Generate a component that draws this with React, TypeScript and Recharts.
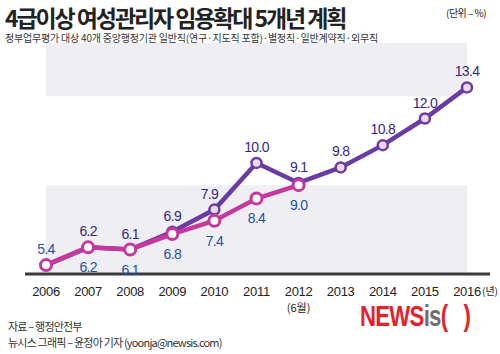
import React from "react";
import {
  LabelList,
  Line,
  LineChart,
  ReferenceArea,
  ReferenceLine,
  XAxis,
  YAxis,
} from "recharts";

const years = ["2006", "2007", "2008", "2009", "2010", "2011", "2012", "2013", "2014", "2015", "2016"];
const planValues = [5.4, 6.2, 6.1, 6.9, 7.9, 10.0, 9.1, 9.8, 10.8, 12.0, 13.4];
const actualValues = [5.4, 6.2, 6.1, 6.8, 7.4, 8.4, 9.0, null, null, null, null];
const yTicks = [5, 7, 9, 11, 13, 15];

const data = years.map((year, i) => ({
  year,
  plan: planValues[i],
  actual: actualValues[i],
}));

const PURPLE = "#6a3ca2";
const PINK = "#c5399f";
const GREY_BAND = "#efeff3";
const KR = "'Noto Sans CJK KR', 'Noto Sans', sans-serif";
const NUM = "'Liberation Sans', Arial, sans-serif";

const YTick = (props: any) => (
  <text x={19} y={props.y} dy={4} textAnchor="end" fontFamily={NUM} fontSize={12} fill="#111">
    {props.payload.value}
  </text>
);

const XTick = (props: any) => {
  const v = props.payload.value;
  return (
    <g>
      <text x={props.x} y={props.y + 14} textAnchor="middle" fontFamily={NUM} fontSize={13} fill="#222" letterSpacing={-0.3}>
        {v}
      </text>
      {v === "2012" && (
        <text x={props.x} y={props.y + 30} textAnchor="middle" fontFamily={KR} fontSize={11} fill="#222">
          (6월)
        </text>
      )}
      {v === "2016" && (
        <text x={props.x + 15} y={props.y + 13} textAnchor="start" fontFamily={KR} fontSize={10} fill="#222">
          (년)
        </text>
      )}
    </g>
  );
};

// 2006 point is shared, so only the blue label is shown there (above)
const planLabel = (props: any) => {
  if (props.index === 0) return null;
  const dx = props.index === 4 ? -5 : 0;
  return (
    <text x={props.x + dx} y={props.y - 11} textAnchor="middle" fontFamily={NUM} fontSize={14} fill="#3a1f85" letterSpacing={-0.7}>
      {Number(props.value).toFixed(1)}
    </text>
  );
};

const actualLabel = (props: any) => {
  if (props.value == null) return null;
  const above = props.index === 0;
  return (
    <text
      x={props.x}
      y={above ? props.y - 11 : props.y + 25}
      textAnchor="middle"
      fontFamily={NUM}
      fontSize={14}
      fill="#1d4fa8"
      letterSpacing={-0.7}
    >
      {Number(props.value).toFixed(1)}
    </text>
  );
};

const Baseline = (props: any) => (
  <line x1={props.x1 + 20} y1={props.y1} x2={props.x2} y2={props.y2} stroke="#3a3a3a" strokeWidth={3} />
);

export default function App() {
  return (
    <div style={{ position: "absolute", left: 0, top: 0, width: 500, height: 354, background: "#fff", overflow: "hidden" }}>
      <LineChart
        width={500}
        height={354}
        data={data}
        margin={{ top: 43, right: 10, left: 5, bottom: 50 }}
        style={{ position: "absolute", left: 0, top: 0 }}
      >
        <ReferenceArea y1={13} y2={15.4} fill={GREY_BAND} fillOpacity={1} stroke="none" />
        <ReferenceArea y1={5} y2={9} fill={GREY_BAND} fillOpacity={1} stroke="none" />
        <XAxis
          dataKey="year"
          height={30}
          padding={{ left: 41, right: 23 }}
          axisLine={false}
          tickLine={false}
          tick={XTick}
          interval={0}
        />
        <YAxis
          width={0}
          domain={[5, 15.4]}
          ticks={yTicks}
          axisLine={false}
          tickLine={false}
          tick={YTick}
        />
        <ReferenceLine y={5} shape={Baseline} />
        <Line
          dataKey="plan"
          stroke={PURPLE}
          strokeWidth={4.5}
          dot={{ r: 5, fill: "#ecd8ec", stroke: PURPLE, strokeWidth: 2.5 }}
          isAnimationActive={false}
        >
          <LabelList dataKey="plan" content={planLabel} />
        </Line>
        <Line
          dataKey="actual"
          stroke={PINK}
          strokeWidth={4.5}
          dot={{ r: 5.5, fill: "#fff", stroke: PINK, strokeWidth: 3 }}
          connectNulls={false}
          isAnimationActive={false}
        >
          <LabelList dataKey="actual" content={actualLabel} />
        </Line>
      </LineChart>
      <div style={{ position: "absolute", left: 5, top: 4, fontFamily: KR, fontWeight: 700, fontSize: 23, letterSpacing: -2.1, color: "#222", whiteSpace: "nowrap", lineHeight: "26px" }}>
        4급이상 여성관리자 임용확대 5개년 계획
      </div>
      <div style={{ position: "absolute", left: 446, top: 6, fontFamily: KR, fontSize: 10, letterSpacing: -0.5, color: "#222", whiteSpace: "nowrap", lineHeight: "14px" }}>
        (단위 – %)
      </div>
      <div style={{ position: "absolute", left: 5, top: 31, fontFamily: KR, fontSize: 10, letterSpacing: -0.2, color: "#333", whiteSpace: "nowrap", lineHeight: "13px" }}>
        정부업무평가 대상 40개 중앙행정기관 일반직(연구·지도직 포함)·별정직·일반계약직·외무직
      </div>
      <div style={{ position: "absolute", left: 8, top: 318, fontFamily: KR, fontSize: 11, letterSpacing: -0.8, color: "#333", lineHeight: "16px", whiteSpace: "nowrap" }}>
        자료 – 행정안전부
        <br />
        뉴시스 그래픽 – 윤정아 기자 (yoonja@newsis.com)
      </div>
      <div style={{ position: "absolute", left: 360, top: 299, fontFamily: "'Liberation Sans Narrow', 'Liberation Sans', sans-serif", fontWeight: 700, fontSize: 30, lineHeight: "34px", whiteSpace: "nowrap", transform: "scaleX(0.74)", transformOrigin: "left top", letterSpacing: -1 }}>
        <span style={{ color: "#e3222b" }}>NEWS</span>
        <span style={{ color: "#6f6f6f" }}>is</span>
        <span style={{ color: "#e3222b" }}>(&nbsp;&nbsp;&nbsp;)</span>
      </div>
    </div>
  );
}
